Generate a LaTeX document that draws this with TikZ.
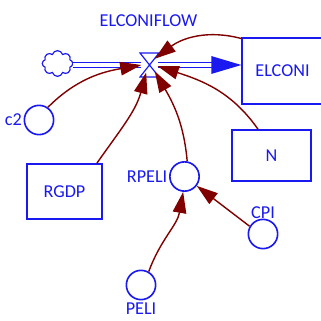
\documentclass[tikz,border=0pt]{standalone}
\usepackage{fontspec}
\setmainfont{Carlito}
\usetikzlibrary{arrows.meta,shapes.symbols}
\definecolor{vblue}{RGB}{25,25,240}
\definecolor{linkred}{RGB}{128,0,0}
\begin{document}
\begin{tikzpicture}[x=0.03cm,y=0.03cm,
        every node/.style={text=vblue,font=\fontsize{15.5}{17}\selectfont},
        box/.style={draw=vblue,line width=1.4pt,minimum width=#1},
        aux/.style={circle,draw=vblue,line width=1.4pt,minimum size=25pt,inner sep=0pt},
        link/.style={linkred,line width=1.2pt,-{Triangle[length=18pt,width=11.5pt]}},
        pipe/.style={draw=vblue,line width=1.2pt,double=white,double distance=3.4pt}]
    \useasboundingbox (0,0) rectangle (321,-320);

    \node (flowname) at (148.5,-21) {ELCONIFLOW};
    \node[box=69.7pt,minimum height=56pt] (elconi) at (283,-71) {};
    \node at (282.5,-71) {ELCONI};
    \node[box=63.8pt,minimum height=46.8pt] (rgdp) at (64.5,-191.5) {RGDP};
    \node[box=67.2pt,minimum height=43.4pt] (n) at (271.5,-155.5) {N};
    \node[aux,label={[label distance=-2pt]left:c2}] (c2) at (39,-120) {};
    \node[aux,label={[label distance=-2pt]left:RPELI}] (rpeli) at (184.5,-176.5) {};
    \node[aux,label={[label distance=-4pt]above:CPI}] (cpi) at (263,-234) {};
    \node[aux,label={[label distance=-1.5pt]below:PELI}] (peli) at (141,-285) {};
    \node[cloud,cloud puffs=8,cloud ignores aspect,draw=vblue,line width=1pt,
        minimum width=26pt,minimum height=22pt] (cloud) at (57.5,-63.5) {};

    % flow pipe and valve
    \node[circle,minimum size=13.6pt,inner sep=0pt] (valve) at (149.5,-65) {};
    \draw[pipe] (cloud.east |- valve) -- (valve.west);
    \draw[pipe] (valve.east) -- ([xshift=-24pt]elconi.west |- valve);
    \fill[vblue] (elconi.west |- valve) -- ++(-25.5pt,7.6pt) -- ++(0,-15.2pt) -- cycle;
    \draw[vblue,line width=1pt] (valve) +(-9.5,12) -- +(9.5,12) -- +(-9.5,-12) -- +(9.5,-12) -- cycle;

    % links
    \draw[link] ([yshift=-1pt]elconi.north west) to[out=165,in=37] (valve.50);
    \draw[link] (c2.55) to[out=45,in=190] (valve.180);
    \draw[link] ([xshift=-5pt]rgdp.north east) to[out=55,in=-105] (valve.246);
    \draw[link] (rpeli.80) to[out=95,in=-60] (valve.-50);
    \draw[link] ([xshift=-11.5pt]n.north) to[out=125,in=-18] (valve.-8);
    \draw[link] (peli.60) to[out=70,in=-100] (rpeli.265);
    \draw[link] (cpi.150) -- (rpeli);
\end{tikzpicture}
\end{document}
